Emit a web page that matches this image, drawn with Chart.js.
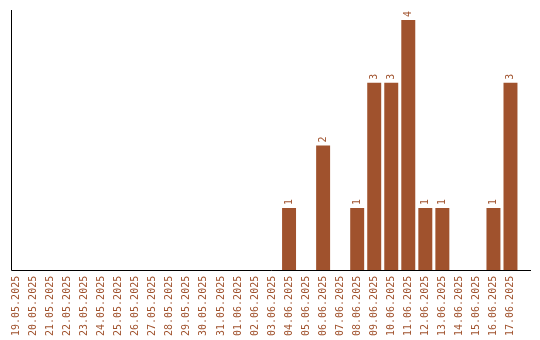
<!DOCTYPE html>
<html>
<head>
<meta charset="utf-8">
<script src="https://cdn.jsdelivr.net/npm/chart.js@4/dist/chart.umd.min.js"></script>
<style>
  body { margin: 0; background: #fff; }
  #wrap { width: 540px; height: 340px; }
</style>
</head>
<body>
<div id="wrap"><canvas id="bar-chart"></canvas></div>
<script>
var days = [
  '19.05.2025', '20.05.2025', '21.05.2025', '22.05.2025', '23.05.2025',
  '24.05.2025', '25.05.2025', '26.05.2025', '27.05.2025', '28.05.2025',
  '29.05.2025', '30.05.2025', '31.05.2025', '01.06.2025', '02.06.2025',
  '03.06.2025', '04.06.2025', '05.06.2025', '06.06.2025', '07.06.2025',
  '08.06.2025', '09.06.2025', '10.06.2025', '11.06.2025', '12.06.2025',
  '13.06.2025', '14.06.2025', '15.06.2025', '16.06.2025', '17.06.2025'
];
var counts = [
  0, 0, 0, 0, 0,
  0, 0, 0, 0, 0,
  0, 0, 0, 0, 0,
  0, 1, 0, 2, 0,
  1, 3, 3, 4, 1,
  1, 0, 0, 1, 3
];

var brown = '#a0522d';
var monoFont = '"DejaVu Sans Mono", monospace';

// value written upright above each bar (skips the empty days)
var barValues = {
  id: 'barValues',
  afterDatasetsDraw: function (chart) {
    var ctx = chart.ctx;
    var meta = chart.getDatasetMeta(0);
    ctx.save();
    ctx.fillStyle = brown;
    ctx.font = '10px ' + monoFont;
    ctx.textAlign = 'left';
    ctx.textBaseline = 'middle';
    meta.data.forEach(function (bar, i) {
      var v = chart.data.datasets[0].data[i];
      if (!v) return;
      ctx.save();
      ctx.translate(bar.x, bar.y - 3);
      ctx.rotate(-Math.PI / 2);
      ctx.fillText(String(v), 0, 0);
      ctx.restore();
    });
    ctx.restore();
  }
};

// the axis lines sit a little inside the bar bands on the left and run past them on the right
var axisLines = {
  id: 'axisLines',
  afterDraw: function (chart) {
    var a = chart.chartArea;
    var ctx = chart.ctx;
    var x0 = Math.round(a.left + 2.5) + 0.5;
    var y0 = Math.round(a.bottom) - 0.5;
    ctx.save();
    ctx.strokeStyle = '#000';
    ctx.lineWidth = 1;
    ctx.beginPath();
    ctx.moveTo(x0, a.top);
    ctx.lineTo(x0, y0);
    ctx.lineTo(a.right + 12, y0);
    ctx.stroke();
    ctx.restore();
  }
};

var ctx = document.getElementById('bar-chart').getContext('2d');
var chart = new Chart(ctx, {
  type: 'bar',
  data: {
    labels: days,
    datasets: [{
      data: counts,
      backgroundColor: brown,
      borderWidth: 0,
      barPercentage: 0.82,
      categoryPercentage: 1
    }]
  },
  options: {
    responsive: true,
    maintainAspectRatio: false,
    animation: false,
    layout: { padding: { left: 0, top: 10, right: 21, bottom: 0 } },
    plugins: {
      legend: { display: false },
      tooltip: { enabled: false }
    },
    scales: {
      x: {
        grid: { display: false },
        border: { display: false },
        // empty title only reserves room below the labels so they are not clipped
        title: { display: true, text: '', font: { size: 1, lineHeight: 1 }, padding: { top: 0, bottom: 6 } },
        ticks: {
          color: brown,
          font: { family: monoFont, size: 10 },
          minRotation: 90,
          maxRotation: 90,
          autoSkip: false,
          padding: -3
        }
      },
      y: {
        min: 0,
        max: 4.16,
        grid: { display: false },
        border: { display: false },
        ticks: { display: false }
      }
    }
  },
  plugins: [barValues, axisLines]
});
</script>
</body>
</html>
